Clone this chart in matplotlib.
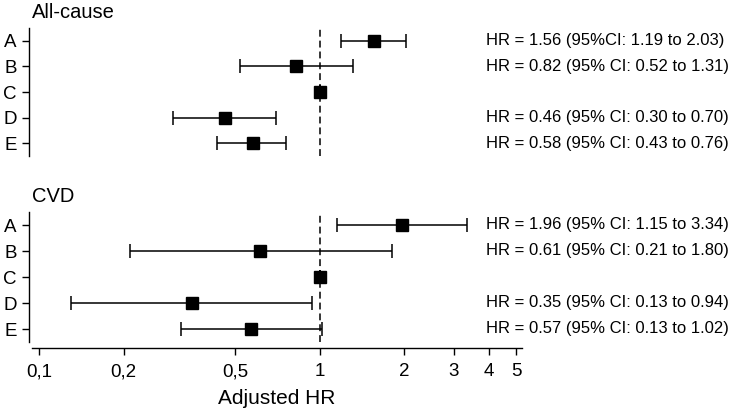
import matplotlib.pyplot as plt
import numpy as np

plt.rcParams['font.family'] = ['Liberation Sans', 'DejaVu Sans']

rows = ['A', 'B', 'C', 'D', 'E']

# all-cause mortality: estimate and drawn CI
allc_hr = [1.56, 0.82, 1.0, 0.46, 0.58]
allc_lo = [1.19, 0.52, 1.0, 0.30, 0.43]
allc_hi = [2.03, 1.31, 1.0, 0.70, 0.76]
allc_txt = ['HR = 1.56 (95%CI: 1.19 to 2.03)',
            'HR = 0.82 (95% CI: 0.52 to 1.31)',
            '',
            'HR = 0.46 (95% CI: 0.30 to 0.70)',
            'HR = 0.58 (95% CI: 0.43 to 0.76)']

# CVD mortality
cvd_hr = [1.96, 0.61, 1.0, 0.35, 0.57]
cvd_lo = [1.15, 0.21, 1.0, 0.13, 0.32]
cvd_hi = [3.34, 1.80, 1.0, 0.94, 1.02]
cvd_txt = ['HR = 1.96 (95% CI: 1.15 to 3.34)',
           'HR = 0.61 (95% CI: 0.21 to 1.80)',
           '',
           'HR = 0.35 (95% CI: 0.13 to 0.94)',
           'HR = 0.57 (95% CI: 0.13 to 1.02)']

xticks = [0.1, 0.2, 0.5, 1, 2, 3, 4, 5]
xticklabels = ['0,1', '0,2', '0,5', '1', '2', '3', '4', '5']

W, H = 734, 415
fig = plt.figure(figsize=(W / 100, H / 100), dpi=100)

def box(left, right, top, bottom):
    # pixel box -> figure fraction
    return [left / W, 1 - bottom / H, (right - left) / W, (bottom - top) / H]

ax1 = fig.add_axes(box(32, 522, 28, 156))
ax2 = fig.add_axes(box(32, 522, 212, 342))

panels = [(ax1, 'All-cause', allc_hr, allc_lo, allc_hi, allc_txt),
          (ax2, 'CVD', cvd_hr, cvd_lo, cvd_hi, cvd_txt)]

for ax, title, hr, lo, hi, txt in panels:
    y = np.arange(1, len(rows) + 1)
    hr = np.array(hr)
    err = [hr - np.array(lo), np.array(hi) - hr]
    ax.errorbar(hr, y, xerr=err, fmt='s', color='black', ms=8.3,
                lw=1.1, capsize=5, capthick=1.1, zorder=3)
    ax.axvline(1, color='black', lw=1.1, dashes=(4.5, 2.6), zorder=1)
    ax.set_xscale('log')
    ax.set_xlim(0.0944, 5.24)
    ax.set_ylim(5.5, 0.5)
    ax.set_yticks(y)
    ax.set_yticklabels(rows)
    ax.tick_params(axis='y', length=5, width=1, pad=4, labelsize=13.5)
    ax.minorticks_off()
    for s in ['top', 'right']:
        ax.spines[s].set_visible(False)
    ax.spines['left'].set_position(('outward', 2))
    ax.spines['left'].set_linewidth(1)
    ax.text(0.0, 1.05, title, transform=ax.transAxes, fontsize=14.5,
            ha='left', va='bottom')
    for yi, t in zip(y, txt):
        ax.annotate(t, xy=(0.927, yi), xycoords=('axes fraction', 'data'),
                    fontsize=12, va='center', ha='left', annotation_clip=False)

ax1.spines['bottom'].set_visible(False)
ax1.set_xticks([])

ax2.spines['bottom'].set_position(('outward', 4.3))
ax2.spines['bottom'].set_linewidth(1)
ax2.set_xticks(xticks)
ax2.set_xticklabels(xticklabels)
ax2.tick_params(axis='x', length=5, width=1, pad=6, labelsize=13.5)
ax2.minorticks_off()
ax2.set_xlabel('Adjusted HR', fontsize=15, labelpad=6)

fig.savefig('out.png', dpi=100)
